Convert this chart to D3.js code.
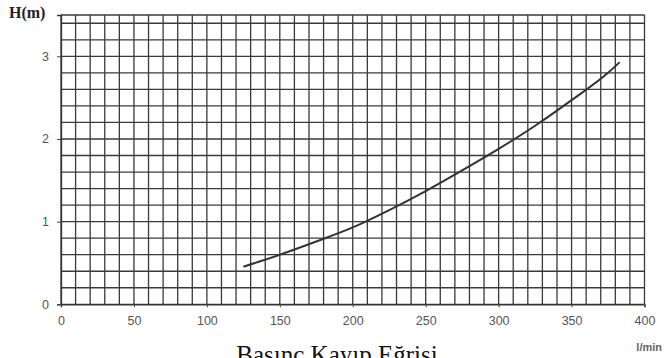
<!DOCTYPE html>
<html><head><meta charset="utf-8">
<script src="https://cdn.jsdelivr.net/npm/d3@7"></script>
<style>body{margin:0;background:#fff}svg{display:block}</style>
</head><body>
<script>
const flowLmin = [125,150,175,200,225,250,275,300,325,350,375,383];
const headM    = [0.455,0.60,0.76,0.93,1.14,1.37,1.62,1.88,2.16,2.47,2.80,2.93];
const xTicks = [0,50,100,150,200,250,300,350,400];
const yTicks = [0,1,2,3];
const title = "Basınç Kayıp Eğrisi";
const yLabel = "H(m)";
const xLabel = "l/min";

const W=669,H=358;
const svg=d3.select("body").append("svg").attr("width",W).attr("height",H);
const x=d3.scaleLinear().domain([0,400]).range([61,644.5]);
const y=d3.scaleLinear().domain([0,3.5]).range([304.3,15]);

const grid=svg.append("g").attr("stroke","#3a3a3a").attr("stroke-width",1.3);
grid.selectAll("line.v").data(d3.range(0,401,10)).join("line")
  .attr("x1",d=>x(d)).attr("x2",d=>x(d)).attr("y1",y(0)).attr("y2",y(3.5));
grid.selectAll("line.h").data(d3.range(0,3.41,0.2).concat([3.5])).join("line")
  .attr("y1",d=>y(d)).attr("y2",d=>y(d)).attr("x1",x(0)).attr("x2",x(400));

const xa=svg.append("g").attr("transform",`translate(0,${y(0)})`)
  .call(d3.axisBottom(x).tickValues(xTicks).tickFormat(d3.format("d")).tickSize(3).tickPadding(9));
const ya=svg.append("g").attr("transform",`translate(${x(0)},0)`)
  .call(d3.axisLeft(y).tickValues(yTicks).tickFormat(d3.format("d")).tickSize(4).tickPadding(8));
[xa,ya].forEach(a=>{
  a.select(".domain").attr("stroke","#333").attr("stroke-width",1.3);
  a.selectAll(".tick line").attr("stroke","#444");
  a.selectAll(".tick text").attr("fill","#555").attr("font-family","Liberation Sans, Arial, sans-serif").attr("font-size",12.5);
});

svg.append("path").datum(flowLmin.map((q,i)=>[q,headM[i]]))
  .attr("fill","none").attr("stroke","#333").attr("stroke-width",2)
  .attr("d",d3.line().x(d=>x(d[0])).y(d=>y(d[1])).curve(d3.curveMonotoneX));

svg.append("text").attr("x",9).attr("y",18).text(yLabel)
  .attr("font-family","Liberation Serif, Times New Roman, serif").attr("font-weight","bold").attr("font-size",16).attr("fill","#222");
svg.append("text").attr("x",662).attr("y",351).attr("text-anchor","end").text(xLabel)
  .attr("font-family","Liberation Sans, Arial, sans-serif").attr("font-size",11).attr("font-weight","bold").attr("fill","#666");
svg.append("text").attr("x",337).attr("y",363).attr("text-anchor","middle").text(title)
  .attr("font-family","Liberation Serif, Times New Roman, serif").attr("font-size",25).attr("fill","#111");
</script>
</body></html>
